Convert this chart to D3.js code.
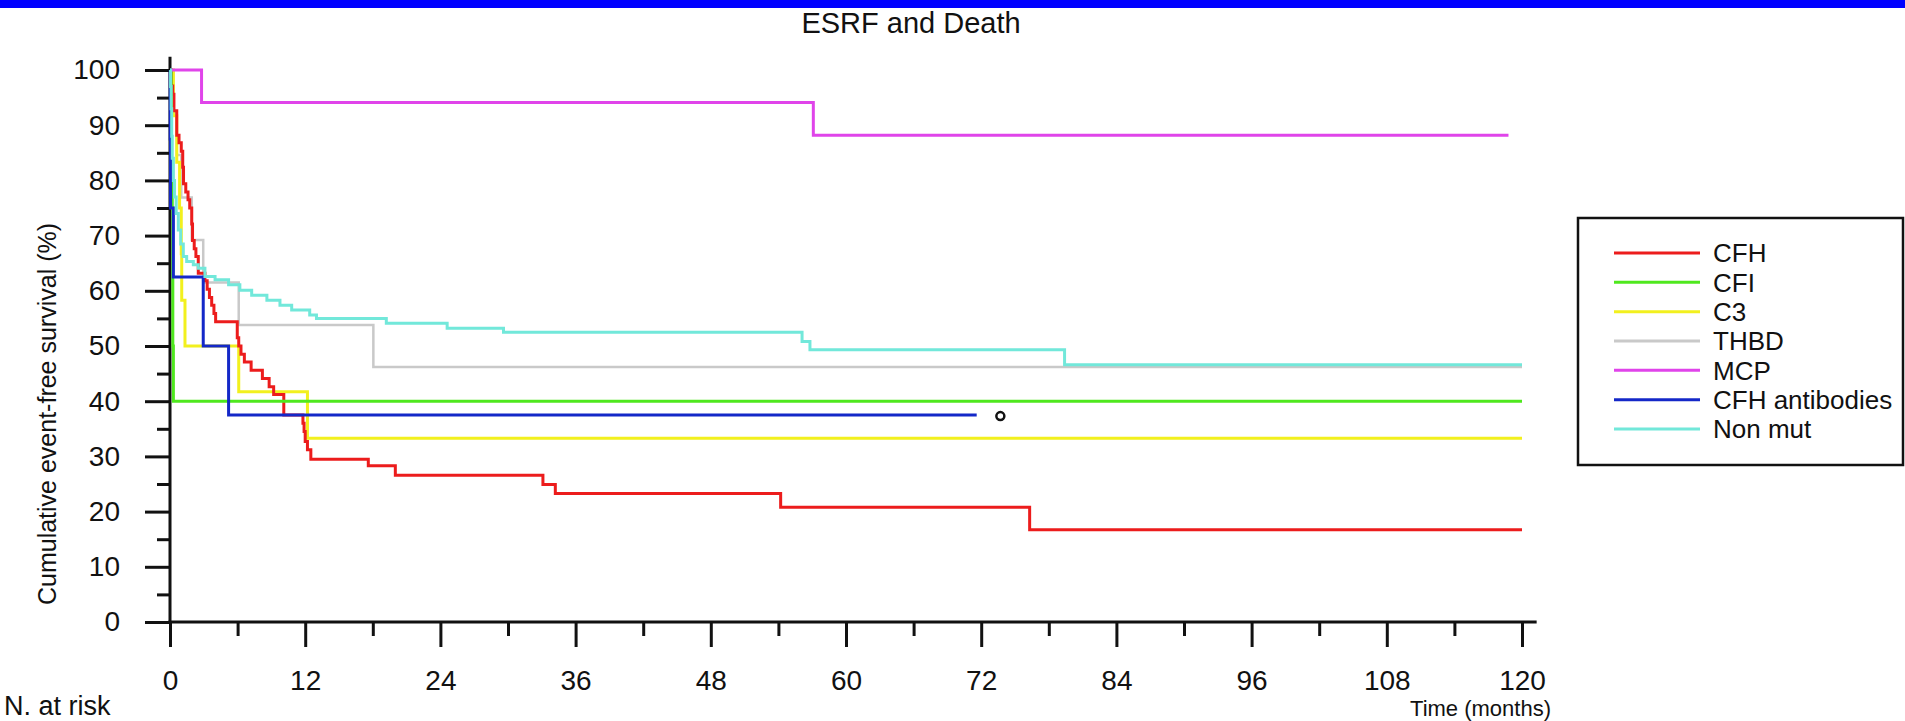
<!DOCTYPE html>
<html>
<head>
<meta charset="utf-8">
<script src="https://cdn.jsdelivr.net/npm/d3@7"></script>
<style>
    body { margin: 0; background: #fff; overflow: hidden; }
    svg text { font-family: "Liberation Sans", Arial, Helvetica, sans-serif; fill: #111; }
</style>
</head>
<body>
<div id="chart"></div>
<script>
// groups, in legend order
const groups = ["CFH", "CFI", "C3", "THBD", "MCP", "CFH antibodies", "Non mut"];

// Kaplan-Meier steps: [month, % event-free]
const cfh = [[0, 100], [0.1, 97.1], [0.24, 95.6], [0.35, 92.6], [0.6, 88.2], [0.8, 86.8], [1.0, 85.3],
    [1.13, 82.4], [1.2, 79.4], [1.4, 77.9], [1.6, 76.5], [1.75, 75.0], [1.93, 72.1], [2.0, 69.1],
    [2.15, 67.6], [2.3, 66.2], [2.51, 63.2], [3.1, 61.8], [3.3, 60.3], [3.5, 58.8], [3.7, 57.4],
    [3.9, 55.9], [4.05, 54.4], [5.97, 51.5], [6.1, 50.0], [6.3, 48.5], [6.6, 47.1], [7.2, 45.6],
    [8.2, 44.1], [8.8, 42.6], [9.2, 41.2], [10.1, 37.5], [11.8, 36.0], [11.9, 34.5], [12.0, 32.7],
    [12.2, 31.2], [12.5, 29.5], [17.6, 28.3], [20.0, 26.6], [33.1, 24.9], [34.2, 23.3],
    [54.2, 20.8], [76.3, 16.7], [120, 16.7]];
const cfi = [[0, 100], [0.1, 80], [0.2, 75], [0.25, 50], [0.3, 40], [120, 40]];
const c3 = [[0, 100], [0.3, 91.7], [0.6, 83.3], [0.85, 75], [1.0, 66.7], [1.04, 58.3], [1.33, 50],
    [6.1, 41.7], [12.2, 33.3], [120, 33.3]];
const thbd = [[0, 100], [0.3, 92.3], [0.6, 84.6], [1.0, 76.9], [1.93, 69.2], [2.95, 61.5],
    [6.1, 53.8], [18.05, 46.2], [120, 46.2]];
const mcp = [[0, 100], [2.8, 94.1], [57.1, 88.2], [118.8, 88.2]];
const cfhAb = [[0, 100], [0.02, 87.5], [0.05, 75], [0.3, 62.5], [2.95, 50], [5.2, 37.5], [71.6, 37.5]];
const nonMut = [[0, 100], [0.05, 97], [0.1, 93], [0.15, 88], [0.2, 84], [0.3, 80], [0.4, 77],
    [0.55, 74], [0.74, 71.0], [0.95, 68.5], [1.18, 66.2], [1.48, 65.3], [2.07, 64.7], [2.51, 64.1],
    [3.1, 62.6], [4.0, 62.0], [5.2, 61.1], [6.2, 60.1], [7.25, 59.2], [8.6, 58.3], [9.76, 57.4],
    [10.8, 56.5], [12.4, 55.6], [13.0, 55.0], [19.2, 54.1], [24.6, 53.2], [29.6, 52.5],
    [56.1, 50.8], [56.8, 49.3], [79.4, 46.6], [120, 46.6]];

// open circle drawn after the CFH antibodies curve
const censorMarks = [[73.7, 37.3]];

const xMajor = [0, 12, 24, 36, 48, 60, 72, 84, 96, 108, 120];
const xMinor = [6, 18, 30, 42, 54, 66, 78, 90, 102, 114];
const yMajor = [0, 10, 20, 30, 40, 50, 60, 70, 80, 90, 100];
const yMinor = [5, 15, 25, 35, 45, 55, 65, 75, 85, 95];

const ctx = {
    W: 1905,
    H: 721,
    colors: ["#ec1c1c", "#4fe81e", "#f2f01e", "#c9c9c9", "#e044ea", "#1428c8", "#72e8da"],
};

const series = [cfh, cfi, c3, thbd, mcp, cfhAb, nonMut];
// order the curves are painted in (last on top)
const drawOrder = [3, 2, 0, 1, 4, 5, 6];

function createViz() {
    const svg = d3.select("#chart").append("svg")
        .attr("width", ctx.W)
        .attr("height", ctx.H);

    svg.append("rect").attr("x", 0).attr("y", 0)
        .attr("width", ctx.W).attr("height", 8)
        .attr("fill", "#0000ff");

    const x = d3.scaleLinear().domain([0, 120]).range([170, 1522]);
    const y = d3.scaleLinear().domain([0, 100]).range([622, 70]);

    // title
    svg.append("text")
        .attr("x", 911).attr("y", 33)
        .attr("text-anchor", "middle")
        .style("font-size", "29px")
        .text("ESRF and Death");

    // axes
    const xAxis = svg.append("g").attr("transform", `translate(0,${y(0)})`)
        .call(d3.axisBottom(x).tickValues(xMajor).tickSize(25).tickPadding(23).tickFormat(d3.format("d")));
    const xAxisMinor = svg.append("g").attr("transform", `translate(0,${y(0)})`)
        .call(d3.axisBottom(x).tickValues(xMinor).tickSize(14).tickFormat(""));
    const yAxis = svg.append("g").attr("transform", `translate(${x(0)},0)`)
        .call(d3.axisLeft(y).tickValues(yMajor).tickSize(25).tickPadding(25).tickFormat(d3.format("d")));
    const yAxisMinor = svg.append("g").attr("transform", `translate(${x(0)},0)`)
        .call(d3.axisLeft(y).tickValues(yMinor).tickSize(13).tickFormat(""));

    [xAxis, xAxisMinor, yAxis, yAxisMinor].forEach(g => {
        g.select(".domain").remove();
        g.selectAll(".tick line").attr("stroke", "#111").attr("stroke-width", 3);
        g.selectAll(".tick text")
            .style("font-size", "28px")
            .style("font-family", "'Liberation Sans', Arial, Helvetica, sans-serif")
            .attr("fill", "#111");
    });

    svg.append("line")
        .attr("x1", x(0)).attr("x2", x(0))
        .attr("y1", y(102.4)).attr("y2", y(0) + 1.5)
        .attr("stroke", "#111").attr("stroke-width", 3);
    svg.append("line")
        .attr("x1", x(0) - 1.5).attr("x2", x(121.3))
        .attr("y1", y(0)).attr("y2", y(0))
        .attr("stroke", "#111").attr("stroke-width", 3);

    // curves
    const line = d3.line()
        .x(d => x(d[0]))
        .y(d => y(d[1]))
        .curve(d3.curveStepAfter);

    svg.append("g").attr("class", "curves")
        .selectAll("path")
        .data(drawOrder)
        .enter()
        .append("path")
        .attr("d", i => line(series[i]))
        .attr("fill", "none")
        .attr("stroke", i => ctx.colors[i])
        .attr("stroke-width", i => groups[i] === "THBD" ? 2.5 : 3);

    svg.append("g").selectAll("circle")
        .data(censorMarks)
        .enter()
        .append("circle")
        .attr("cx", d => x(d[0]))
        .attr("cy", d => y(d[1]))
        .attr("r", 4)
        .attr("fill", "none")
        .attr("stroke", "#111")
        .attr("stroke-width", 2.5);

    // axis titles
    svg.append("text")
        .attr("transform", "translate(56,414) rotate(-90)")
        .attr("text-anchor", "middle")
        .style("font-size", "25px")
        .text("Cumulative event-free survival (%)");

    svg.append("text")
        .attr("x", 1551).attr("y", 716)
        .attr("text-anchor", "end")
        .style("font-size", "22px")
        .text("Time (months)");

    svg.append("text")
        .attr("x", 4).attr("y", 715)
        .style("font-size", "27px")
        .text("N. at risk");

    // legend
    const legend = svg.append("g").attr("class", "legend");
    legend.append("rect")
        .attr("x", 1578).attr("y", 218)
        .attr("width", 325).attr("height", 247)
        .attr("fill", "#fff")
        .attr("stroke", "#111")
        .attr("stroke-width", 2.5);

    const rowY = d3.scalePoint().domain(groups).range([253, 429]);

    const rows = legend.selectAll("g.row")
        .data(groups)
        .enter()
        .append("g")
        .attr("class", "row")
        .attr("transform", d => `translate(0,${rowY(d)})`);

    rows.append("line")
        .attr("x1", 1614).attr("x2", 1700)
        .attr("stroke", (d, i) => ctx.colors[i])
        .attr("stroke-width", 3);

    rows.append("text")
        .attr("x", 1713)
        .attr("dy", "0.36em")
        .style("font-size", "26px")
        .text(d => d);
}

createViz();
</script>
</body>
</html>
